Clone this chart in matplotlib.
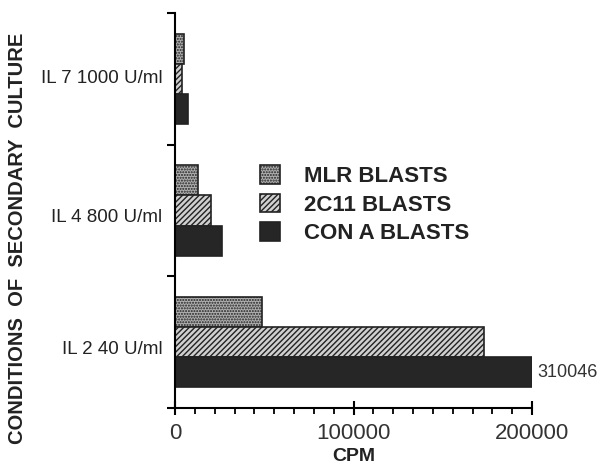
import matplotlib
matplotlib.use("Agg")
import matplotlib.pyplot as plt
from matplotlib.ticker import MultipleLocator, FixedLocator, NullFormatter
import numpy as np

categories = ["IL 2 40 U/ml", "IL 4 800 U/ml", "IL 7 1000 U/ml"]
series = ["MLR BLASTS", "2C11 BLASTS", "CON A BLASTS"]
mlr = [48600, 12700, 5000]
c2c11 = [173100, 20200, 4000]
cona = [310046, 26300, 7500]
xmax = 200000
xticks = [0, 100000, 200000]
xticklabels = ["0", "100000", "200000"]

plt.rcParams['font.family'] = ['Liberation Sans', 'DejaVu Sans']
plt.rcParams['hatch.linewidth'] = 1.0

fig = plt.figure(figsize=(6.10, 4.66), dpi=100)
ax = fig.add_axes([175/610, 1-408/466, (532-175)/610, (408-13)/466])

h = 0.228
y = np.arange(len(categories)) + 0.5
styles = [
    dict(facecolor="#b0b0b0", hatch="......", edgecolor="#222222"),
    dict(facecolor="#d0d0d0", hatch="//////", edgecolor="#222222"),
    dict(facecolor="#262626", hatch=None, edgecolor="#222222"),
]
vals = [mlr, c2c11, cona]
offsets = [h, 0, -h]
for v, off, st, name in zip(vals, offsets, styles, series):
    clipped = [min(a, xmax) for a in v]
    ax.barh(y + off, clipped, height=h, linewidth=1.2, label=name, **st)

# label for clipped bar
for i, v in enumerate(cona):
    if v > xmax:
        ax.text(xmax + 3000, y[i] - h, f"{v}", va="center", ha="left",
                fontsize=13, clip_on=False, color="#333333")

ax.set_xlim(0, xmax)
ax.set_ylim(0, len(categories))

for s in ["top", "right"]:
    ax.spines[s].set_visible(False)
for s in ["left", "bottom"]:
    ax.spines[s].set_linewidth(1.5)

ax.set_xticks(xticks)
ax.set_xticklabels(xticklabels, fontsize=16, color="#333333")
ax.xaxis.set_minor_locator(MultipleLocator(100000/9))
ax.tick_params(axis="x", which="major", direction="inout", length=10, width=1.5, pad=6)
ax.tick_params(axis="x", which="minor", direction="out", length=4, width=1.3)

ax.yaxis.set_major_locator(FixedLocator([0, 1, 2, 3]))
ax.yaxis.set_major_formatter(NullFormatter())
ax.yaxis.set_minor_locator(FixedLocator([y[0] - 0.04, y[1] - 0.04, y[2] + 0.02]))
ax.set_yticklabels(categories, minor=True, fontsize=13.5, color="#222222")
ax.tick_params(axis="y", which="major", direction="out", length=6, width=1.5)
ax.tick_params(axis="y", which="minor", length=0, pad=9)

ax.set_xlabel("CPM", fontsize=14, fontweight="bold", labelpad=3, color="#222222")
fig.text(18/610, 1-238/466, "CONDITIONS  OF  SECONDARY  CULTURE", rotation=90,
         fontsize=14.5, fontweight="bold", ha="center", va="center", color="#222222")

leg = ax.legend(loc="upper left", bbox_to_anchor=(0.238, 0.615), frameon=False,
                prop=dict(size=16, weight="bold"), handlelength=0.9, handleheight=0.9,
                labelspacing=0.3, handletextpad=1.1, borderaxespad=0, borderpad=0)
for t in leg.get_texts():
    t.set_color("#222222")

fig.savefig("out.png", dpi=100)
